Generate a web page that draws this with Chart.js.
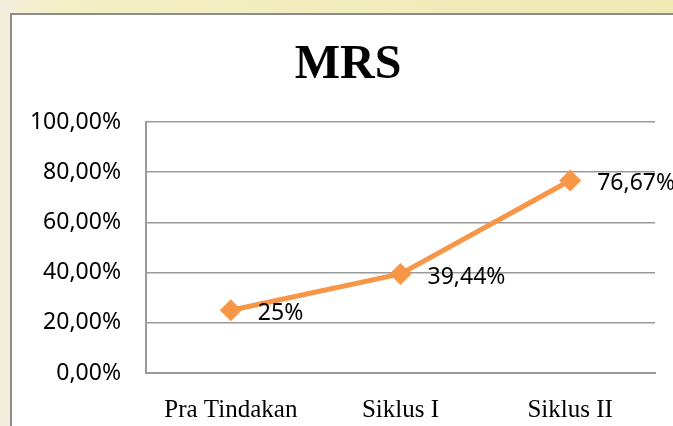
<!DOCTYPE html>
<html>
<head>
<meta charset="utf-8">
<script src="https://cdn.jsdelivr.net/npm/chart.js@4"></script>
<style>
  html, body { margin: 0; padding: 0; width: 673px; height: 426px; overflow: hidden; }
  body { background: linear-gradient(90deg, #f2eedd 0px, #f4efc4 60px, #efe9b4 100%); position: relative; }
  #box {
    position: absolute; left: 10px; top: 13px;
    width: 700px; height: 430px;
    background: #fff; border: 2px solid #8c8c8c;
  }
</style>
</head>
<body>
<div id="box"><canvas id="chart" width="700" height="430"></canvas></div>
<script>
// MRS chart data
const chartTitle = 'MRS';
const categories = ['Pra Tindakan', 'Siklus I', 'Siklus II'];
const mrsValues = [25, 39.44, 76.67];
const yTicks = [0, 20, 40, 60, 80, 100];

const pct = (v) => v.toFixed(2).replace('.', ',') + '%';
const labelText = (v) => Number.isInteger(v) ? v + '%' : pct(v);

// title centred on the whole box (wider than the visible part)
const boxTitle = {
  id: 'boxTitle',
  afterDraw(chart) {
    const { ctx } = chart;
    ctx.save();
    ctx.font = 'bold 48px "Liberation Serif"';
    ctx.fillStyle = '#000';
    ctx.textAlign = 'center';
    ctx.textBaseline = 'middle';
    ctx.fillText(chartTitle, 336, 51);
    ctx.restore();
  }
};

// value labels to the right of each point
const valueLabels = {
  id: 'valueLabels',
  afterDatasetsDraw(chart) {
    const { ctx } = chart;
    const meta = chart.getDatasetMeta(0);
    ctx.save();
    ctx.font = '23px "Noto Sans"';
    ctx.fillStyle = '#000';
    ctx.textBaseline = 'middle';
    ctx.textAlign = 'left';
    meta.data.forEach((pt, i) => {
      ctx.fillText(labelText(mrsValues[i]), pt.x + 27, pt.y + 3);
    });
    ctx.restore();
  }
};

new Chart(document.getElementById('chart').getContext('2d'), {
  type: 'line',
  data: {
    labels: categories,
    datasets: [{
      label: chartTitle,
      data: mrsValues,
      borderColor: '#f79646',
      backgroundColor: '#f79646',
      borderWidth: 5,
      pointStyle: 'rectRot',
      pointRadius: 11,
      pointHoverRadius: 11,
      pointBorderWidth: 0,
      tension: 0
    }]
  },
  options: {
    responsive: false,
    animation: false,
    layout: { padding: { left: 0, right: 57, top: 107, bottom: 0 } },
    plugins: {
      legend: { display: false },
      tooltip: { enabled: false },
      title: { display: false }
    },
    scales: {
      x: {
        offset: true,
        grid: { display: false, drawTicks: false },
        border: { display: true, color: '#9a9a9a', width: 2 },
        ticks: { color: '#000', padding: 22, font: { family: '"Liberation Serif"', size: 25 } },
        afterFit: (s) => { s.height = 72; }
      },
      y: {
        min: 0,
        max: 100,
        afterBuildTicks: (s) => { s.ticks = yTicks.map(v => ({ value: v })); },
        grid: { color: '#9a9a9a', lineWidth: 1.5, drawTicks: false },
        border: { display: true, color: '#9a9a9a', width: 2 },
        ticks: { color: '#000', padding: 25, font: { family: '"Noto Sans"', size: 23 }, callback: (v) => pct(v) },
        afterFit: (s) => { s.width = 134; }
      }
    }
  },
  plugins: [valueLabels, boxTitle]
});
</script>
</body>
</html>
